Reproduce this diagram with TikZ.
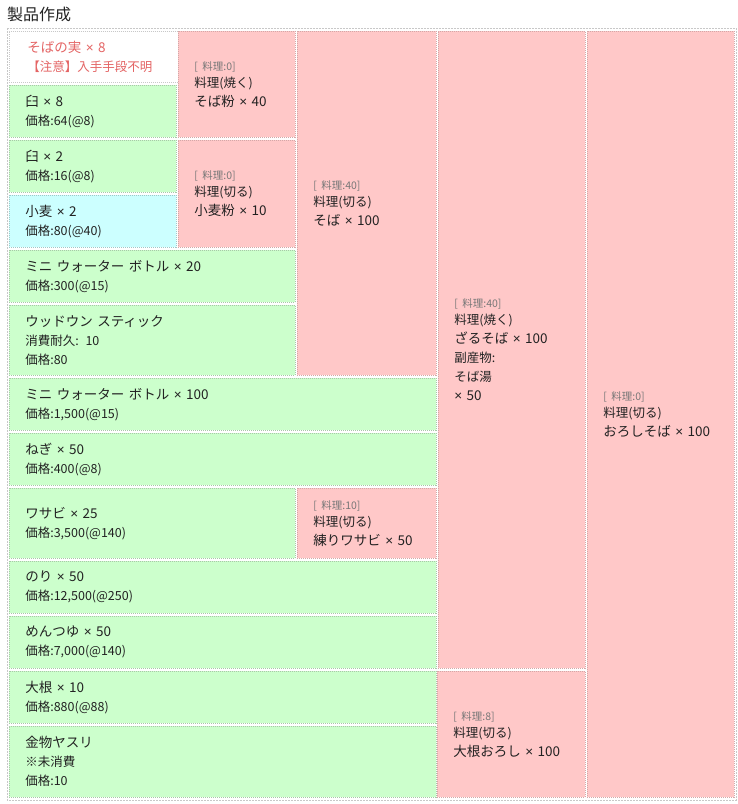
\documentclass[tikz,border=0pt]{standalone}
\usepackage{fontspec}
\setmainfont{Noto Sans CJK JP}
\newfontfamily\lat{Liberation Sans}
\definecolor{grfill}{HTML}{CCFFCC}
\definecolor{grline}{HTML}{A8C8A8}
\definecolor{pkfill}{HTML}{FFC8C8}
\definecolor{pkline}{HTML}{D4A8A8}
\definecolor{cyfill}{HTML}{CCFFFF}
\definecolor{cyline}{HTML}{A0C8C8}
\definecolor{wline}{HTML}{C8C8C8}
\definecolor{txt}{HTML}{222222}
\definecolor{lbl}{HTML}{777777}
\definecolor{warn}{HTML}{E46464}
\newcommand\mycell[7]{%
  \pgfmathsetmacro\cw{#4-#2}%
  \pgfmathsetmacro\ch{#5-#3}%
  \pgfmathsetmacro\tw{#4-#2-32}%
  \node[cellbase,#6,minimum width=\cw pt,minimum height=\ch pt,text width=\tw pt] (#1) at (#2,#3) {#7};}
\newcommand\lb[1]{{\fontsize{10.5}{12}\selectfont\color{lbl}#1}}
\newcommand\sm[1]{{\fontsize{12.5}{14}\selectfont #1}}
\newcommand\X{{\lat ×}}
\begin{document}
\begin{tikzpicture}[x=1pt,y=-1pt,
  cellbase/.style={anchor=north west,inner xsep=16pt,inner ysep=0pt,align=left,
    line width=0.6pt,dash pattern=on 1pt off 1pt,text=txt,
    font=\fontsize{13.5}{19}\selectfont},
  green/.style={fill=grfill,draw=grline},
  pink/.style={fill=pkfill,draw=pkline},
  cyan/.style={fill=cyfill,draw=cyline},
  white/.style={fill=white,draw=wline,text=warn,inner xsep=18pt}]
\useasboundingbox (0,0) rectangle (738,804);
\node[anchor=west,inner sep=0pt,font=\fontsize{16}{18}\selectfont,text=txt] (title) at (7,14) {製品作成};
\draw[wline,line width=0.6pt,dash pattern=on 2pt off 1pt] (7,28) rectangle (736,800);
\mycell{sobami}{9}{31}{176}{82}{white}{そばの実 \X{} 8\\\sm{【注意】入手手段不明}}
\mycell{usu8}{9}{85}{176}{137}{green}{臼 \X{} 8\\\sm{価格:64(@8)}}
\mycell{sobako}{178}{31}{295}{137}{pink}{\lb{[ 料理:0]}\\[-2pt]\sm{料理(焼く)}\\そば粉 \X{} 40}
\mycell{usu2}{9}{140}{176}{192}{green}{臼 \X{} 2\\\sm{価格:16(@8)}}
\mycell{komugi}{9}{195}{176}{247}{cyan}{小麦 \X{} 2\\\sm{価格:80(@40)}}
\mycell{komugiko}{178}{140}{295}{247}{pink}{\lb{[ 料理:0]}\\[-2pt]\sm{料理(切る)}\\小麦粉 \X{} 10}
\mycell{water20}{9}{250}{295}{302}{green}{ミニ ウォーター ボトル \X{} 20\\\sm{価格:300(@15)}}
\mycell{stick}{9}{305}{295}{375}{green}{ウッドウン スティック\\\sm{消費耐久: 10}\\\sm{価格:80}}
\mycell{soba}{297}{31}{436}{375}{pink}{\lb{[ 料理:40]}\\[-2pt]\sm{料理(切る)}\\そば \X{} 100}
\mycell{zaru}{438}{31}{585}{668}{pink}{\lb{[ 料理:40]}\\[-2pt]\sm{料理(焼く)}\\ざるそば \X{} 100\\\sm{副産物:}\\\sm{そば湯}\\\X{} 50}
\mycell{oroshisoba}{587}{31}{734}{797}{pink}{\lb{[ 料理:0]}\\[-2pt]\sm{料理(切る)}\\おろしそば \X{} 100}
\mycell{water100}{9}{378}{436}{430}{green}{ミニ ウォーター ボトル \X{} 100\\\sm{価格:1,500(@15)}}
\mycell{negi}{9}{433}{436}{485}{green}{ねぎ \X{} 50\\\sm{価格:400(@8)}}
\mycell{wasabi}{9}{488}{295}{558}{green}{ワサビ \X{} 25\\\sm{価格:3,500(@140)}}
\mycell{neriwasabi}{297}{488}{436}{558}{pink}{\lb{[ 料理:10]}\\[-2pt]\sm{料理(切る)}\\練りワサビ \X{} 50}
\mycell{nori}{9}{561}{436}{613}{green}{のり \X{} 50\\\sm{価格:12,500(@250)}}
\mycell{mentsuyu}{9}{616}{436}{668}{green}{めんつゆ \X{} 50\\\sm{価格:7,000(@140)}}
\mycell{daikon}{9}{671}{436}{723}{green}{大根 \X{} 10\\\sm{価格:880(@88)}}
\mycell{yasuri}{9}{726}{436}{797}{green}{金物ヤスリ\\\sm{※未消費}\\\sm{価格:10}}
\mycell{daikonoroshi}{437}{671}{585}{797}{pink}{\lb{[ 料理:8]}\\[-2pt]\sm{料理(切る)}\\大根おろし \X{} 100}
\end{tikzpicture}
\end{document}
